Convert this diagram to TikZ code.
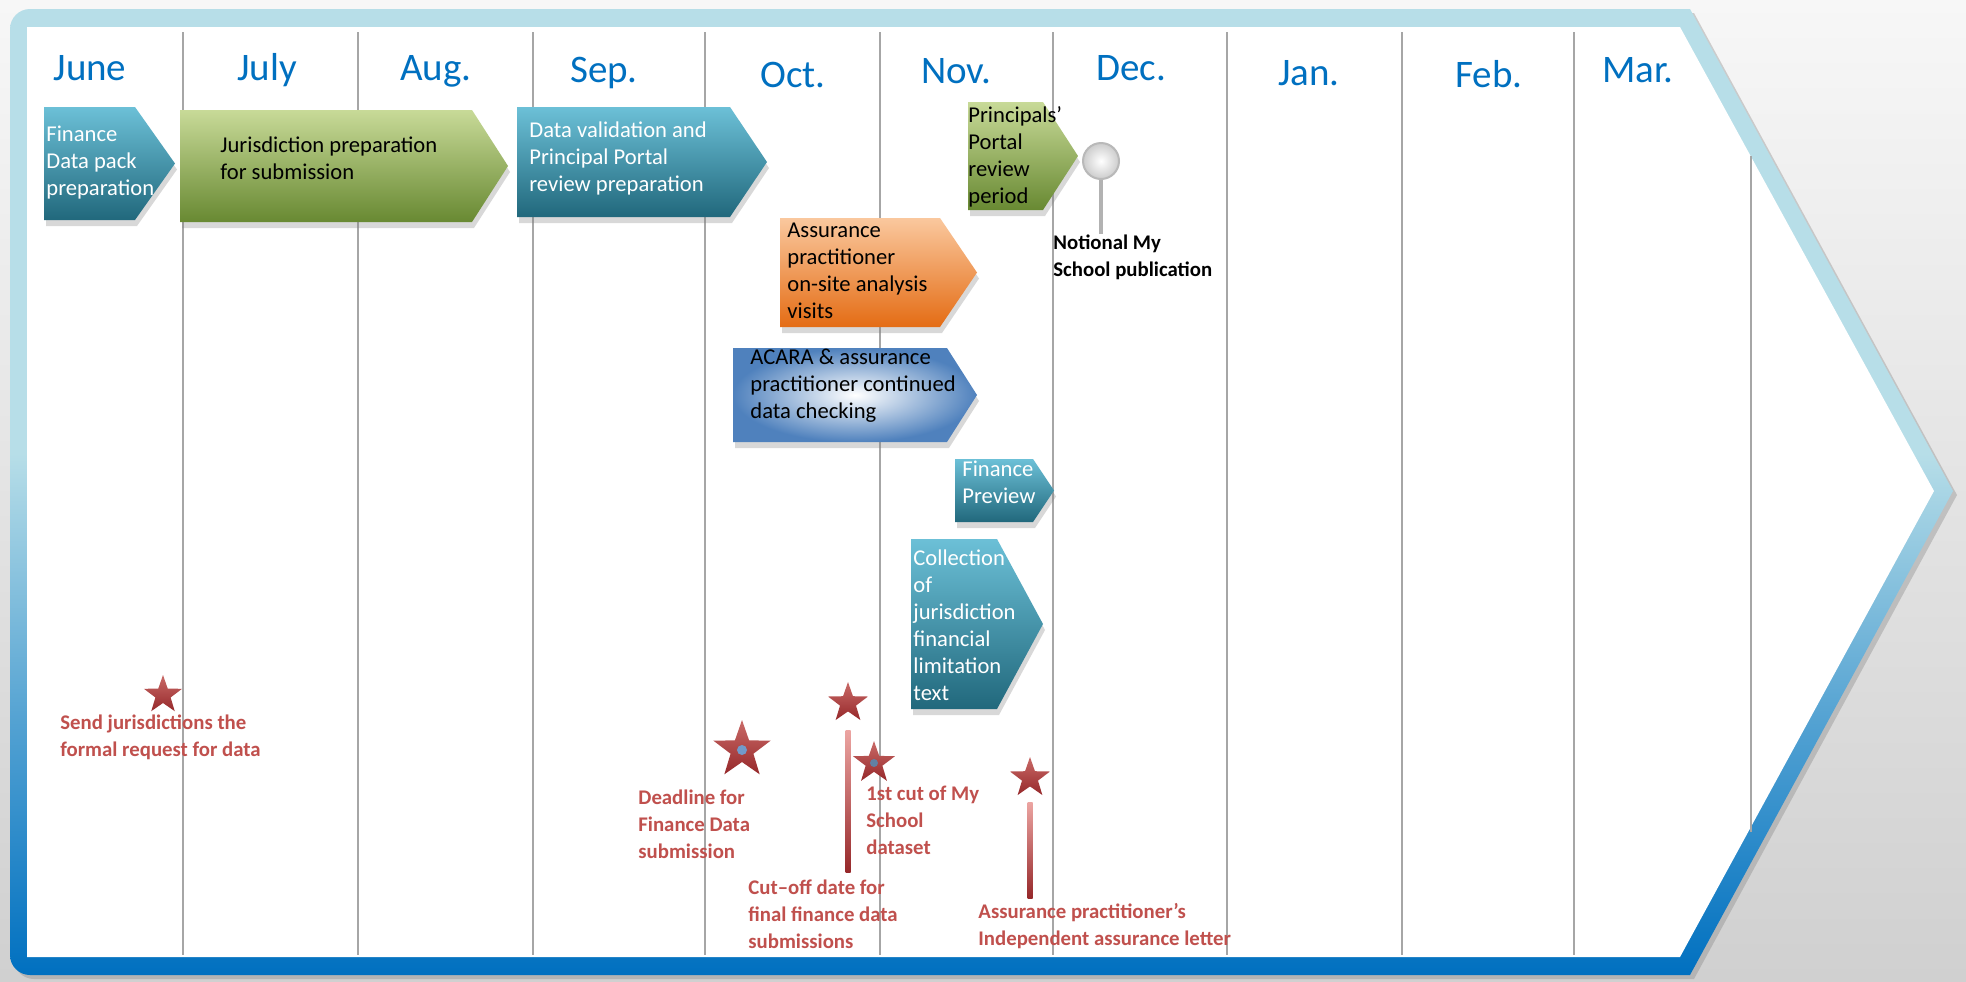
\documentclass[tikz,border=0pt]{standalone}
\usepackage{fontspec}
\setmainfont{Carlito}
\usetikzlibrary{calc,shapes.geometric,shadows}
\definecolor{bgtop}{RGB}{247,247,247}
\definecolor{bgbottom}{RGB}{208,208,208}
\definecolor{framelight}{RGB}{183,222,232}
\definecolor{framedark}{RGB}{0,112,192}
\definecolor{monthblue}{RGB}{0,112,192}
\definecolor{gridgray}{RGB}{166,166,166}
\definecolor{tealtop}{RGB}{108,192,215}
\definecolor{tealbottom}{RGB}{33,104,124}
\definecolor{greentop}{RGB}{200,218,152}
\definecolor{greenbottom}{RGB}{104,137,50}
\definecolor{orangetop}{RGB}{250,200,158}
\definecolor{orangebottom}{RGB}{228,108,20}
\definecolor{acarablue}{RGB}{79,129,189}
\definecolor{milered}{RGB}{192,80,77}
\definecolor{miledark}{RGB}{150,40,42}
\definecolor{milelight}{RGB}{236,165,162}
\pgfdeclareverticalshading{framefade}{100bp}{color(0bp)=(framedark); color(25bp)=(framedark);
  color(38bp)=(framedark!55!framelight); color(52bp)=(framelight); color(100bp)=(framelight)}
\newcommand{\bodysize}{\fontsize{11.3}{13.5}\selectfont}
\newcommand{\labelsize}{\fontsize{10.4}{13.5}\selectfont\bfseries}
% style, left, top, shoulder, tip, bottom
\newcommand{\phase}[6]{\path[#1] (#2,#3) -- (#4,#3) -- (#5,{(#3+#6)/2}) -- (#4,#6) -- (#2,#6) -- cycle;}
\tikzset{
    month/.style={anchor=base, text=monthblue, font=\fontsize{19.5}{23}\selectfont, inner sep=0},
    monthline/.style={draw=gridgray, line width=1pt},
    phaseshadow/.style={drop shadow={shadow xshift=1pt, shadow yshift=-3pt, opacity=0.3}},
    tealphase/.style={phaseshadow, top color=tealtop, bottom color=tealbottom},
    greenphase/.style={phaseshadow, top color=greentop, bottom color=greenbottom},
    orangephase/.style={phaseshadow, top color=orangetop, bottom color=orangebottom},
    bluephase/.style={phaseshadow, inner color=white, outer color=acarablue},
    phasetext/.style={anchor=north west, inner sep=0, align=left, font=\bodysize, execute at begin node=\strut},
    lighttext/.style={phasetext, text=white},
    milestone/.style={star, star points=5, star point ratio=2.5, inner sep=0, top color=milered!85!white, bottom color=miledark},
    milestonetext/.style={anchor=north west, inner sep=0, align=left, text=milered, font=\labelsize, execute at begin node=\strut},
    redbar/.style={top color=milelight, bottom color=miledark},
    pinball/.style={circle, minimum size=18pt, inner sep=0, draw=gray!55, line width=1pt, inner color=white, outer color=gray!40},
    pinstem/.style={draw=gray!60, line width=2pt}
}
\begin{document}
\begin{tikzpicture}[x=0.5pt, y=-0.5pt]
    \useasboundingbox (0,0) rectangle (1966,981);
    \shade[top color=bgtop, bottom color=bgbottom] (0,0) rectangle (1966,981);

    % chevron frame
    \shade[shading=framefade, drop shadow={shadow xshift=2pt, shadow yshift=-2pt, opacity=0.35}]
        (1690,9) -- (1953,491) -- (1690,975) [rounded corners=10] -- (10,975) -- (10,9) [sharp corners] -- cycle;
    \fill[white] (27,27) -- (1680,27) -- (1934,491) -- (1680,957) -- (27,957) -- cycle;

    \foreach \x in {183,358,533,705,880,1053,1227,1402,1574}
        \draw[monthline] (\x,32) -- (\x,955);
    \draw[monthline] (1751,156) -- (1751,832);

    \foreach \m/\x/\y [count=\i] in {June/90/80, July/267/80, Aug./436/80, Sep./604/82, Oct./793/87,
            Nov./956/83, Dec./1131/80, Jan./1309/85, Feb./1489/87, Mar./1638/82}
        \node[month] (month\i) at (\x,\y) {\m};

    % phases
    \phase{tealphase}{44}{107}{135}{175}{220}
    \phase{greenphase}{180}{110}{472}{508}{222}
    \phase{tealphase}{517}{107}{730}{767}{217}
    \phase{greenphase}{968}{102}{1043}{1078}{210}
    \phase{orangephase}{780}{218}{940}{977}{327}
    \phase{bluephase}{733}{348}{947}{977}{442}
    \phase{tealphase}{955}{459}{1033}{1054}{522}
    \phase{tealphase}{911}{539}{997}{1043}{709}

    \node[lighttext] (finpack) at (46,126) {Finance\\Data pack\\preparation};
    \node[phasetext] (jurprep) at (220,136) {Jurisdiction preparation\\for submission};
    \node[lighttext] (datavalid) at (529,121) {Data validation and\\Principal Portal\\review preparation};
    \node[phasetext] (principals) at (968,106) {Principals’\\Portal\\review\\period};
    \node[phasetext] (onsite) at (787,223) {Assurance\\practitioner\\on-site analysis\\visits};
    \node[phasetext] (checking) at (750,349) {ACARA \& assurance\\practitioner continued\\data checking};
    \node[lighttext] (preview) at (962,461) {Finance\\Preview};
    \node[lighttext] (limitation) at (913,549) {Collection\\of\\jurisdiction\\financial\\limitation\\text};

    % publication pin
    \node[pinball] (pin) at (1101,161) {};
    \node[milestonetext, text=black] (notional) at (1053,234) {Notional My\\School publication};
    \draw[pinstem] (pin.south) -- (pin.south |- notional.north);

    % milestones
    \node[milestone, minimum size=20pt] (sendS) at (163,695) {};
    \node[milestonetext] (sendL) at (60,714) {Send jurisdictions the\\formal request for data};

    \node[milestone, minimum size=30pt] (deadS) at (742,750) {};
    \fill[acarablue!80] (deadS.center) circle[radius=5];
    \node[milestonetext] (deadL) at (638,789) {Deadline for\\Finance Data\\submission};

    \node[milestone, minimum size=21pt] (cutS) at (848,703) {};
    \node[milestonetext] (cutL) at (748,879) {Cut–off date for\\final finance data\\submissions};
    \shade[redbar] ($(cutS.center)+(-2.5,27)$) rectangle ($(cutS.center |- cutL.north)+(2.5,-7)$);

    \node[milestone, minimum size=22pt] (firstS) at (874,763) {};
    \fill[acarablue!60!gray] (firstS.center) circle[radius=4];
    \node[milestonetext] (firstL) at (866,786) {1st cut of My\\School\\dataset};

    \node[milestone, minimum size=21pt] (letterS) at (1030,778) {};
    \node[milestonetext] (letterL) at (978,903) {Assurance practitioner’s\\Independent assurance letter};
    \shade[redbar] ($(letterS.center)+(-2.5,24)$) rectangle ($(letterS.center |- letterL.north)+(2.5,-5)$);
\end{tikzpicture}
\end{document}
